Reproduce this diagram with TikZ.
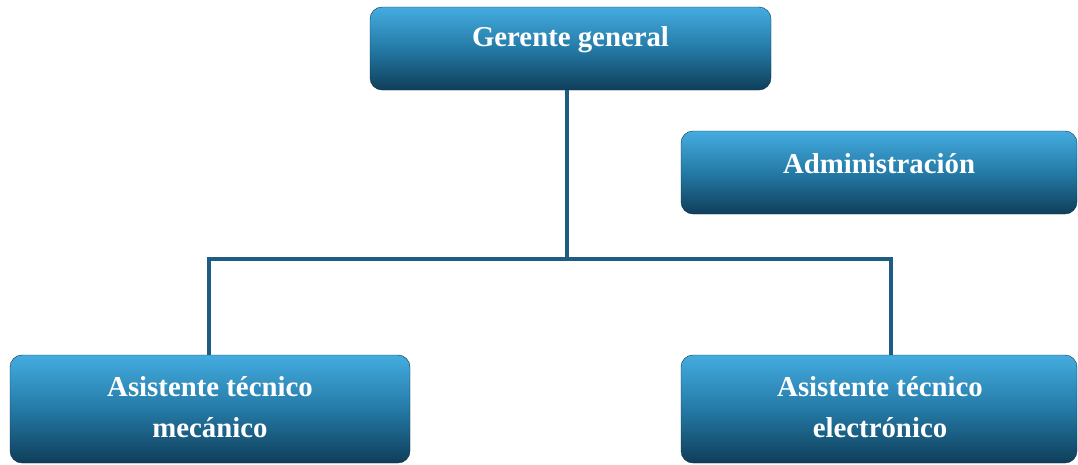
\documentclass[tikz,border=0pt]{standalone}
\usepackage{fontspec}
\setmainfont{Liberation Serif}
\begin{document}
\definecolor{boxtop}{RGB}{68,172,224}
\definecolor{boxmid}{RGB}{36,122,166}
\definecolor{boxbot}{RGB}{15,62,90}
\definecolor{linkcol}{RGB}{30,92,132}
\begin{tikzpicture}[x=1pt,y=-1pt,
  orgbox/.style={rectangle, rounded corners=12pt, inner sep=0pt,
    top color=boxtop, bottom color=boxbot, middle color=boxmid,
    draw=boxbot!80!black, line width=0.4pt},
  boxtext/.style={text=white, font=\fontsize{28.8}{41}\selectfont\bfseries, align=center, inner sep=0pt},
  link/.style={draw=linkcol, line width=3.2pt}]
\useasboundingbox (0,0) rectangle (1078,464);

% boxes
\node[orgbox, minimum width=401pt, minimum height=83pt] (gg) at (570.5,48.5) {};
\node[orgbox, minimum width=396pt, minimum height=83pt] (adm) at (879,172.5) {};
\node[orgbox, minimum width=400pt, minimum height=108pt] (mec) at (210,409) {};
\node[orgbox, minimum width=396pt, minimum height=108pt] (ele) at (879,409) {};

% labels
\node[boxtext] (ggt) at (570.5,40) {Gerente general};
\node[boxtext] (admt) at (879,164) {Administración};
\node[boxtext] (mect) at (210,407) {Asistente técnico\\mecánico};
\node[boxtext] (elet) at (880,407) {Asistente técnico\\electrónico};

% connectors
\coordinate (jn) at ([xshift=-3.5pt]gg.south |- 0,259);
\draw[link] ([xshift=-3.5pt]gg.south) -- (jn);
\draw[link] ([xshift=-1pt]mec.north) |- (jn) -| ([xshift=12pt]ele.north);
\end{tikzpicture}
\end{document}
